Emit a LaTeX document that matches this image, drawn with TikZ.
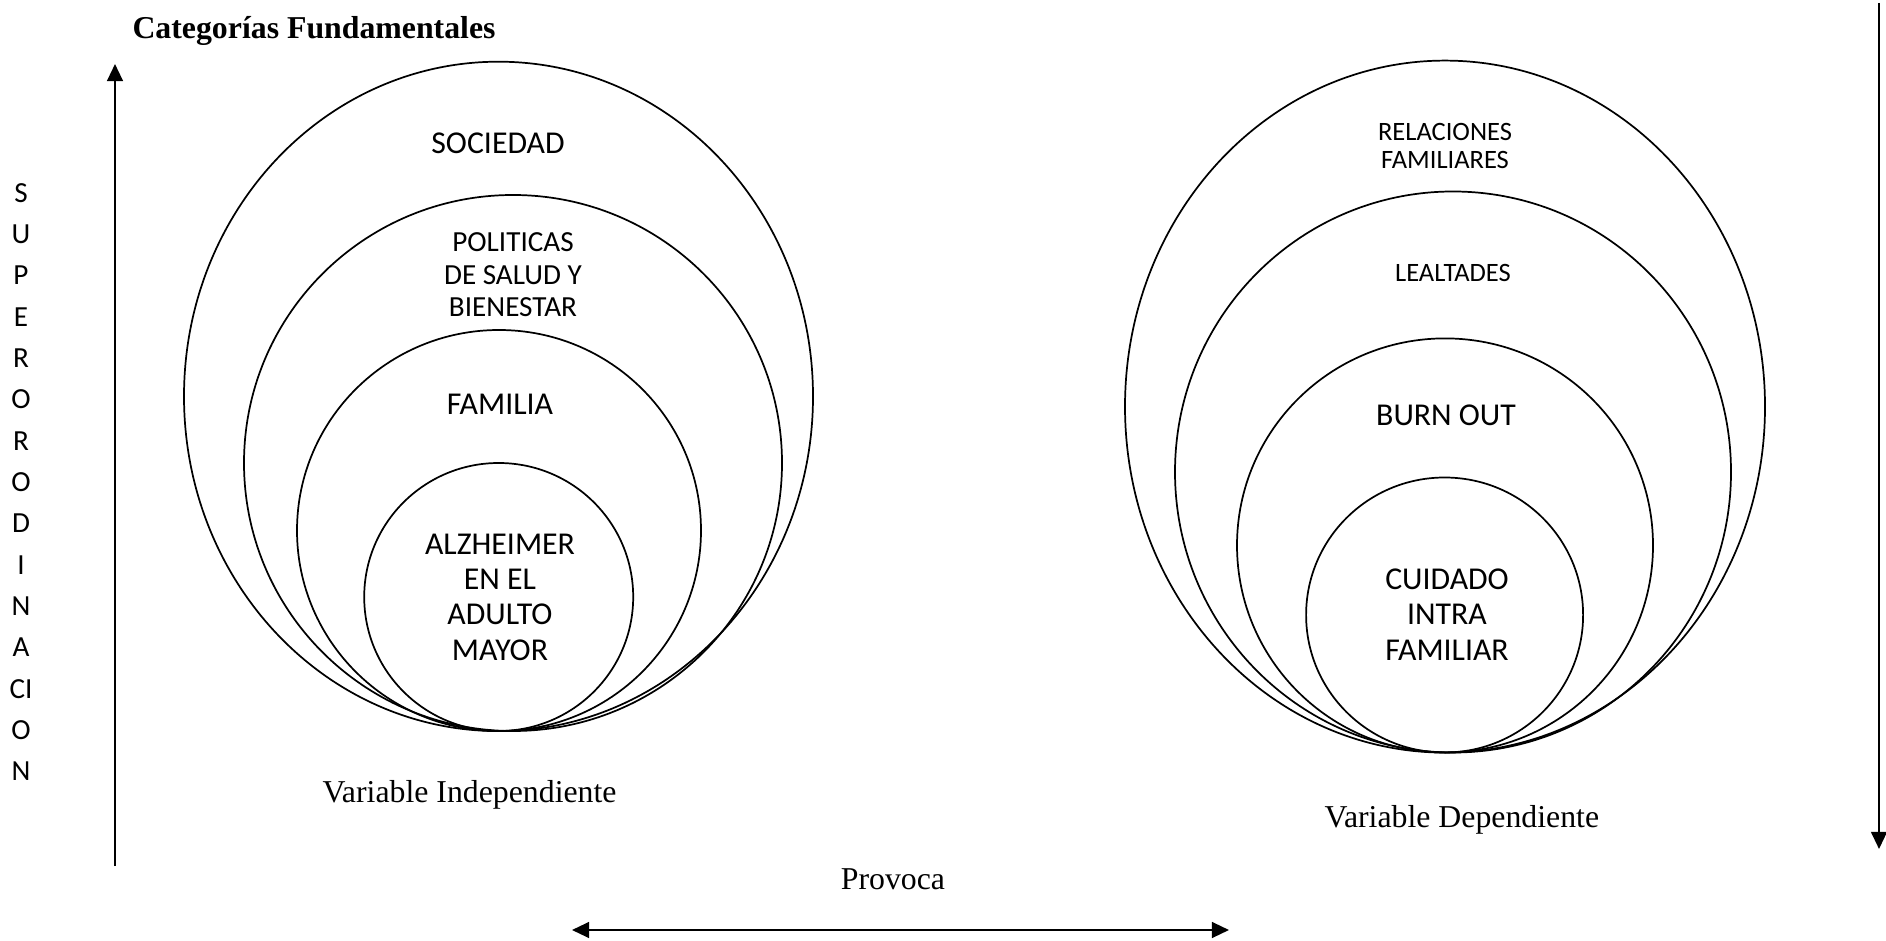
\documentclass[tikz,border=0pt]{standalone}
\usepackage{fontspec}
\setmainfont{Liberation Serif}
\newfontfamily\calfont{Carlito}
\usetikzlibrary{shapes.geometric,arrows.meta}
\newcommand\pxu{0.37736pt}
\begin{document}
\begin{tikzpicture}[x=\pxu, y=-\pxu,
  ring/.style={draw, ellipse, line width=0.65pt, inner sep=0pt, outer sep=0pt},
  sans/.style={font=\calfont\fontsize{#1}{#1}\selectfont, inner sep=0pt, anchor=base, align=center},
  serif/.style={font=\fontsize{12}{14}\selectfont, inner sep=0pt},
  arr/.style={line width=0.8pt, -{Triangle[width=6pt,length=6.5pt]}},
  darr/.style={line width=0.8pt, {Triangle[width=6pt,length=6.5pt]}-{Triangle[width=6pt,length=6.5pt]}}]

\useasboundingbox (0,0) rectangle (1886,941);

% title
\node[serif, font=\bfseries\fontsize{12}{14}\selectfont, anchor=base west] (title) at (132,39) {Categorías Fundamentales};

% vertical axis label
\node[font=\calfont\fontsize{11}{15.6}\selectfont, align=center, inner sep=0pt] (super) at (21,482)
  {S\\U\\P\\E\\R\\O\\R\\O\\D\\I\\N\\A\\CI\\O\\N};

% axes
\coordinate (upS) at (115,866);
\coordinate (upE) at (115,64);
\draw[arr] (upS) -- (upE);
\coordinate (dnS) at (1879,3);
\coordinate (dnE) at (1879,849);
\draw[arr] (dnS) -- (dnE);

% independent variable: nested ellipses
\node[ring, minimum width={629*\pxu}, minimum height={669.4*\pxu}] (L1) at (498.5,396.4) {};
\node[ring, minimum width={538*\pxu}, minimum height={536*\pxu}] (L2) at (513,463) {};
\node[ring, minimum width={404*\pxu}, minimum height={401*\pxu}] (L3) at (499,530.5) {};
\node[ring, minimum width={269*\pxu}, minimum height={268*\pxu}] (L4) at (498.7,597) {};

% labels (multi-line labels are placed by the baseline of their last line)
\node[sans=12] (tL1) at (498,154) {SOCIEDAD};
\node[sans=11, font=\calfont\fontsize{11}{12.3}\selectfont] (tL2) at (513,317) {POLITICAS\\DE SALUD Y\\BIENESTAR};
\node[sans=12] (tL3) at (500,415) {FAMILIA};
\node[sans=12, font=\calfont\fontsize{12}{13.3}\selectfont] (tL4) at (500,660) {ALZHEIMER\\EN EL\\ADULTO\\MAYOR};

% dependent variable: nested ellipses
\node[ring, minimum width={640*\pxu}, minimum height={692*\pxu}] (R1) at (1445,406.6) {};
\node[ring, minimum width={556*\pxu}, minimum height={561*\pxu}] (R2) at (1453,472) {};
\node[ring, minimum width={416*\pxu}, minimum height={414*\pxu}] (R3) at (1445,545.4) {};
\node[ring, minimum width={277*\pxu}, minimum height={275*\pxu}] (R4) at (1444.6,615) {};

\node[sans=10, font=\calfont\fontsize{10}{10.45}\selectfont] (tR1) at (1445,168.5) {RELACIONES\\FAMILIARES};
\node[sans=10] (tR2) at (1453,282) {LEALTADES};
\node[sans=12] (tR3) at (1446,426) {BURN OUT};
\node[sans=12, font=\calfont\fontsize{12}{13.3}\selectfont] (tR4) at (1447,660) {CUIDADO\\INTRA\\FAMILIAR};

% captions
\node[serif, anchor=base west] (capL) at (322,802) {Variable Independiente};
\node[serif, anchor=base west] (capR) at (1324,827) {Variable Dependiente};

% relation
\node[serif, anchor=base] (prov) at (893,889) {Provoca};
\coordinate (bA) at (572,930);
\coordinate (bB) at (1229,930);
\draw[darr] (bA) -- (bB);

\end{tikzpicture}
\end{document}
